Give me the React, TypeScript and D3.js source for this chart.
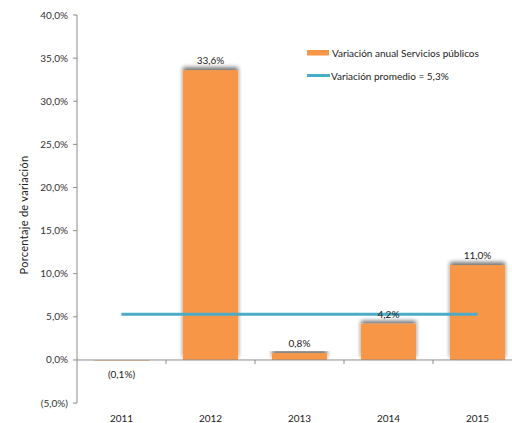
import React from "react";
import * as d3 from "d3";

const years = ["2011", "2012", "2013", "2014", "2015"];
const values = [-0.1, 33.6, 0.8, 4.2, 11.0];
const average = 5.3;
const yTicks = [-5, 0, 5, 10, 15, 20, 25, 30, 35, 40];
const legendBar = "Variación anual Servicios públicos";
const legendLine = "Variación promedio = 5,3%";
const yLabel = "Porcentaje de variación";

const FONT = "Lato, 'Open Sans', sans-serif";
const ORANGE = "#F79646";
const AQUA = "#4BACC6";
const AXIS = "#8c8c8c";

const fmt = (v: number) => {
  const s = Math.abs(v).toFixed(1).replace(".", ",") + "%";
  return v < 0 ? `(${s})` : s;
};

export default function App() {
  const W = 512, H = 423;
  const x0 = 77;
  const step = 89;
  const x = d3.scaleBand<string>().domain(years).range([x0, x0 + step * years.length]).paddingInner(0.38).paddingOuter(0.19);
  const xb = d3.scaleBand<string>().domain(years).range([x0, x0 + step * years.length]);
  const y = d3.scaleLinear().domain([-5, 40]).range([403.1, 15]);
  const center = (c: string) => (xb(c) as number) + xb.bandwidth() / 2;

  return (
    <svg width={W} height={H} style={{ position: "absolute", left: 0, top: 0, background: "#fff" }} fontFamily={FONT}>
      <defs>
        <filter id="sh" x="-20%" y="-20%" width="140%" height="140%">
          <feGaussianBlur in="SourceAlpha" stdDeviation="2" />
          <feOffset dx="0" dy="-3" result="b" />
          <feComponentTransfer>
            <feFuncA type="linear" slope="0.55" />
          </feComponentTransfer>
          <feMerge>
            <feMergeNode />
            <feMergeNode in="SourceGraphic" />
          </feMerge>
        </filter>
      </defs>

      {/* y axis */}
      <line x1={x0} x2={x0} y1={y(40)} y2={y(-5)} stroke={AXIS} strokeWidth={1} />
      {yTicks.map((t) => (
        <g key={t}>
          <line x1={x0 - 4} x2={x0} y1={y(t)} y2={y(t)} stroke={AXIS} />
          <text x={x0 - 9} y={y(t)} dy="0.35em" textAnchor="end" fontSize={10} fill="#333">
            {fmt(t)}
          </text>
        </g>
      ))}
      <text transform={`translate(28,${215}) rotate(-90)`} textAnchor="middle" fontSize={11} fill="#222" letterSpacing={0.3}>
        {yLabel}
      </text>

      {/* bars */}
      {years.map((c, i) => {
        const v = values[i];
        const top = y(Math.max(0, v));
        const h = Math.max(Math.abs(y(v) - y(0)), 1);
        return (
          <rect key={c} x={x(c)} y={top} width={x.bandwidth()} height={h} fill={ORANGE} filter="url(#sh)" opacity={v < 0 ? 0.6 : 1} />
        );
      })}

      {/* x axis */}
      <line x1={x0} x2={W} y1={y(0)} y2={y(0)} stroke={AXIS} />
      {years.slice(1).map((c) => (
        <line key={c} x1={xb(c)} x2={xb(c)} y1={y(0)} y2={y(0) + 4} stroke={AXIS} />
      ))}
      {years.map((c) => (
        <text key={c} x={center(c)} y={422} textAnchor="middle" fontSize={10} fill="#222">
          {c}
        </text>
      ))}

      {/* average line */}
      <line x1={center(years[0])} x2={center(years[years.length - 1])} y1={y(average)} y2={y(average)} stroke={AQUA} strokeWidth={3} />

      {/* data labels */}
      {years.map((c, i) => {
        const v = values[i];
        const ly = v < 0 ? y(v) + 17 : y(v) - 6;
        return (
          <text key={c} x={center(c)} y={ly} textAnchor="middle" fontSize={10} fill="#222">
            {fmt(v)}
          </text>
        );
      })}

      {/* legend */}
      <rect x={307} y={50} width={22} height={5.5} fill={ORANGE} />
      <text x={332} y={56.5} fontSize={10} fill="#222">{legendBar}</text>
      <line x1={307} x2={330} y1={75.5} y2={75.5} stroke={AQUA} strokeWidth={3} />
      <text x={331} y={79.5} fontSize={10} fill="#222">{legendLine}</text>
    </svg>
  );
}
